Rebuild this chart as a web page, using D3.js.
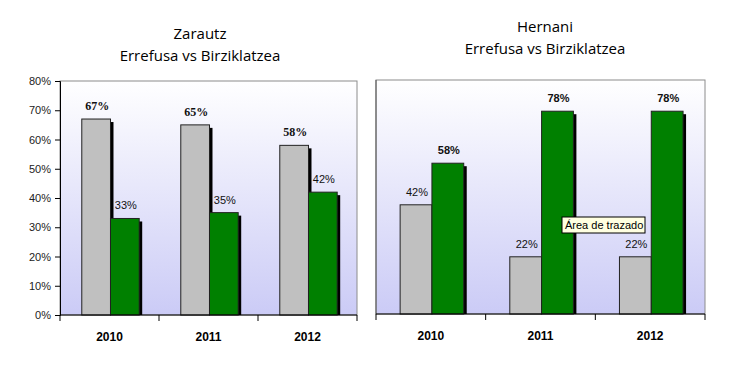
<!DOCTYPE html>
<html>
<head>
<meta charset="utf-8">
<script src="https://cdn.jsdelivr.net/npm/d3@7"></script>
<style>
  body { margin: 0; background: #fff; }
  svg { display: block; }
</style>
</head>
<body>
<svg id="chart" width="735" height="370"></svg>
<script>
const years = ["2010", "2011", "2012"];
const seriesNames = ["Errefusa", "Birziklatzea"];
const zarautzErrefusa = [67, 65, 58];
const zarautzBirziklatzea = [33, 35, 42];
const hernaniErrefusa = [42, 22, 22];
const hernaniBirziklatzea = [58, 78, 78];
const zarautzTicks = [0, 10, 20, 30, 40, 50, 60, 70, 80];

const colors = ["#c0c0c0", "#008000"];

const panels = [
  {
    town: "Zarautz", values: [zarautzErrefusa, zarautzBirziklatzea],
    x0: 60, x1: 357, top: 81, bottom: 315, yMax: 80, showAxis: true,
    titleX: 200, titleY: 39
  },
  {
    town: "Hernani", values: [hernaniErrefusa, hernaniBirziklatzea],
    x0: 376, x1: 705, top: 80, bottom: 314, yMax: 90, showAxis: false,
    titleX: 545, titleY: 32
  }
];

const svg = d3.select("#chart");

const defs = svg.append("defs");
const grad = defs.append("linearGradient")
    .attr("id", "plotBg")
    .attr("x1", 0).attr("y1", 0).attr("x2", 0).attr("y2", 1);
grad.append("stop").attr("offset", "0%").attr("stop-color", "#ffffff");
grad.append("stop").attr("offset", "100%").attr("stop-color", "#cbcbf6");

panels.forEach(drawPanel);

function drawPanel(p) {
  const g = svg.append("g");

  const x = d3.scaleBand()
      .domain(years)
      .range([p.x0, p.x1]);

  const xInner = d3.scaleBand()
      .domain(seriesNames)
      .range([0, x.bandwidth() * 0.58])
      .padding(0);

  const groupOffset = x.bandwidth() * 0.22;

  const y = d3.scaleLinear()
      .domain([0, p.yMax])
      .range([p.bottom, p.top]);

  // Titles
  g.append("text")
      .attr("x", p.titleX)
      .attr("y", p.titleY)
      .attr("text-anchor", "middle")
      .style("font-family", "Open Sans, Liberation Sans, sans-serif")
      .style("font-size", "15px")
      .text(p.town);
  g.append("text")
      .attr("x", p.titleX)
      .attr("y", p.titleY + 22)
      .attr("text-anchor", "middle")
      .style("font-family", "Open Sans, Liberation Sans, sans-serif")
      .style("font-size", "15px")
      .text("Errefusa vs Birziklatzea");

  // Plot area
  g.append("rect")
      .attr("x", p.x0)
      .attr("y", p.top)
      .attr("width", p.x1 - p.x0)
      .attr("height", p.bottom - p.top)
      .attr("fill", "url(#plotBg)")
      .attr("stroke", "#8c8c8c")
      .attr("stroke-width", 1);

  // Y axis (left panel only)
  if (p.showAxis) {
    const yAxis = d3.axisLeft(y)
        .tickValues(zarautzTicks)
        .tickSize(5)
        .tickFormat(d => d + "%");
    const ya = g.append("g")
        .attr("transform", `translate(${p.x0},0)`)
        .call(yAxis);
    ya.select(".domain").attr("stroke", "#000");
    ya.selectAll("line").attr("stroke", "#000");
    ya.selectAll("text")
        .attr("x", -9)
        .attr("fill", "#222")
        .style("font-family", "Liberation Sans, Arial, sans-serif")
        .style("font-size", "11px");
  } else {
    g.append("line")
        .attr("x1", p.x0).attr("x2", p.x0)
        .attr("y1", p.top).attr("y2", p.bottom)
        .attr("stroke", "#555");
  }

  // Bars with drop shadow
  years.forEach((yr, i) => {
    seriesNames.forEach((s, j) => {
      const v = p.values[j][i];
      const bx = x(yr) + groupOffset + xInner(s);
      const bw = xInner.bandwidth();
      g.append("rect")
          .attr("x", bx + 3)
          .attr("y", y(v) + 3)
          .attr("width", bw)
          .attr("height", p.bottom - y(v) - 3)
          .attr("fill", "#000");
      g.append("rect")
          .attr("x", bx)
          .attr("y", y(v))
          .attr("width", bw)
          .attr("height", p.bottom - y(v))
          .attr("fill", colors[j])
          .attr("stroke", "#222")
          .attr("stroke-width", 1);

      const bold = (p.showAxis && j === 0) || (!p.showAxis && j === 1);
      g.append("text")
          .attr("x", bx + bw / 2 + 1)
          .attr("y", y(v) - 9)
          .attr("text-anchor", "middle")
          .attr("fill", "#111")
          .style("font-family", p.showAxis && j === 0 ?
              "Liberation Serif, Times New Roman, serif" :
              "Liberation Sans, Arial, sans-serif")
          .style("font-weight", bold ? "bold" : "normal")
          .style("font-size", p.showAxis && j === 0 ? "12px" : "11px")
          .text(v + "%");
    });
  });

  // X axis
  const xa = g.append("g")
      .attr("transform", `translate(0,${p.bottom})`);
  xa.append("line")
      .attr("x1", p.x0).attr("x2", p.x1)
      .attr("stroke", "#000");
  xa.selectAll(".tick")
      .data(years)
      .enter()
      .append("line")
      .attr("x1", d => x(d) + x.bandwidth())
      .attr("x2", d => x(d) + x.bandwidth())
      .attr("y1", 0)
      .attr("y2", 6)
      .attr("stroke", "#000");
  xa.append("line")
      .attr("x1", p.x0).attr("x2", p.x0)
      .attr("y1", 0).attr("y2", 6)
      .attr("stroke", "#000");
  xa.selectAll(".label")
      .data(years)
      .enter()
      .append("text")
      .attr("x", d => x(d) + x.bandwidth() / 2)
      .attr("y", 26)
      .attr("text-anchor", "middle")
      .style("font-family", "Liberation Sans, Arial, sans-serif")
      .style("font-weight", "bold")
      .style("font-size", "12px")
      .text(d => d);
}

// Tooltip left over from the screenshot
const tip = svg.append("g").attr("transform", "translate(562,217)");
tip.append("rect")
    .attr("width", 83)
    .attr("height", 16)
    .attr("fill", "#ffffe1")
    .attr("stroke", "#000");
tip.append("text")
    .attr("x", 3)
    .attr("y", 12)
    .style("font-family", "Liberation Sans, Arial, sans-serif")
    .style("font-size", "11px")
    .text("Área de trazado");
</script>
</body>
</html>
